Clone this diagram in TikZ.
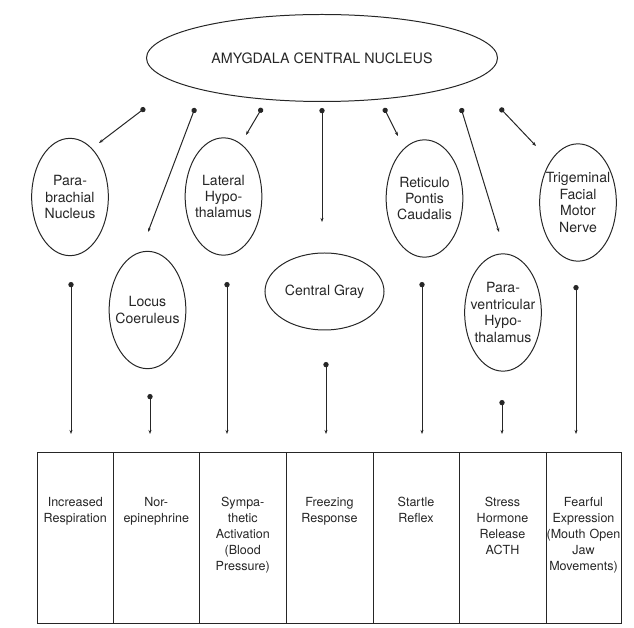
\documentclass[tikz,border=0pt]{standalone}
\usepackage{fontspec}
\setmainfont{TeX Gyre Heros}
\usetikzlibrary{arrows.meta,shapes.geometric}

\begin{document}
\begin{tikzpicture}[x={(0.03cm,0)}, y={(0,-0.03cm)}, line width=0.85pt, color=black!85,
  nucleus/.style={draw, ellipse, inner sep=-0.3cm, minimum width=2.3cm, minimum height=3.52cm,
    align=center, font=\fontsize{12}{14}\selectfont},
  cell/.style={draw, anchor=north, inner sep=0pt, align=center, text height=1.635cm,
    text depth=3.495cm, font=\fontsize{10.7}{13.6}\selectfont},
  link/.style={{Circle[length=4.5pt]}-{Stealth[length=3.5pt,width=2.6pt]}}]
  \useasboundingbox (0,0) rectangle (634,628);
  % central nucleus
  \node[nucleus, minimum width=10.53cm, minimum height=2.61cm, font=\fontsize{12.2}{14}\selectfont]
    (acn) at (322,58) {AMYGDALA CENTRAL NUCLEUS};
  % target nuclei
  \node[nucleus] (pb) at (70,197) {Para-\\brachial\\Nucleus};
  \node[nucleus] (lc) at (147.5,310) {Locus\\Coeruleus};
  \node[nucleus] (lh) at (223.5,196.5) {Lateral\\Hypo-\\thalamus};
  \node[nucleus, minimum width=3.57cm, minimum height=2.31cm] (cg) at (324.5,291.5) {Central Gray};
  \node[nucleus] (rpc) at (424.5,198.5) {Reticulo\\Pontis\\Caudalis};
  \node[nucleus] (pvh) at (503,312.5) {Para-\\ventricular\\Hypo-\\thalamus};
  \node[nucleus] (tfm) at (578,202.5) {Trigeminal\\Facial\\Motor\\Nerve};
  % responses
  \foreach \l/\r/\txt [count=\i] in {37.5/113/{Increased\\Respiration}, 113/199.5/{Nor-\\epinephrine},
      199.5/286/{Sympa-\\thetic\\Activation\\(Blood\\Pressure)}, 286/373/{Freezing\\Response},
      373/459/{Startle\\Reflex}, 459/546/{Stress\\Hormone\\Release\\ACTH},
      546/621/{Fearful\\Expression\\(Mouth Open\\Jaw\\Movements)}} {
    \pgfmathsetmacro\w{(\r-\l)*0.03}
    \node[cell, text width=\w cm] (b\i) at ({(\l+\r)/2},452) {\txt};
  }
  % projections from the central nucleus
  \foreach \n/\sx/\ex/\ey in {pb/145/99/143, lc/195/148/232, lh/262/246/135, cg/322/322/222,
      rpc/384/398/136, pvh/461/499/232, tfm/500/536/146} {
    \coordinate (acn-\n) at (\sx,108);
    \coordinate (\n-tip) at (\ex,\ey);
    \draw[link] (acn-\n) -- (\n-tip);
  }
  % outputs to responses
  \foreach \n/\dx/\dy/\b in {pb/71/282/1, lc/150/394/2, lh/227/282/3, cg/326/362/4,
      rpc/422/282/5, pvh/502/400/6, tfm/576/285/7} {
    \coordinate (\n-out) at (\dx,\dy);
    \draw[link, shorten >=0.54cm] (\n-out) -- (\n-out |- b\b.north);
  }
\end{tikzpicture}
\end{document}
